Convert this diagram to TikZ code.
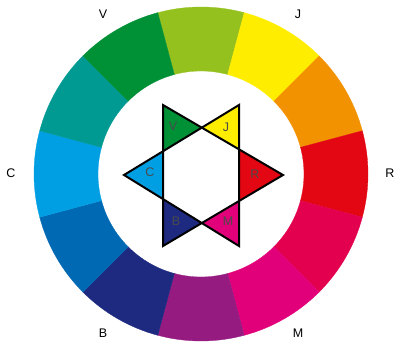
\documentclass[tikz,border=0pt]{standalone}
\usepackage{fontspec}
\setmainfont{Liberation Sans}
\definecolor{cYG}{HTML}{95C11F}
\definecolor{cY}{HTML}{FFED00}
\definecolor{cO}{HTML}{F39200}
\definecolor{cR}{HTML}{E30613}
\definecolor{cRM}{HTML}{E2004F}
\definecolor{cM}{HTML}{E2007A}
\definecolor{cP}{HTML}{951B81}
\definecolor{cB}{HTML}{1D2A80}
\definecolor{cBC}{HTML}{0069B4}
\definecolor{cC}{HTML}{009FE3}
\definecolor{cT}{HTML}{009A93}
\definecolor{cV}{HTML}{009036}
\definecolor{cLbl}{HTML}{4A4A4A}
\tikzset{
  outerlabel/.style={font=\fontsize{12.5}{14}\selectfont, text=black, inner sep=0pt},
  innerlabel/.style={font=\fontsize{12.5}{14}\selectfont, text=cLbl, inner sep=0pt},
  starline/.style={line width=2pt, line join=miter, draw=black}
}
\begin{document}
\begin{tikzpicture}[x=1pt,y=1pt]
\useasboundingbox (0,0) rectangle (395,347);
% colour wheel
\foreach \a/\c in {90/cYG,60/cY,30/cO,0/cR,-30/cRM,-60/cM,-90/cP,-120/cB,-150/cBC,180/cC,150/cT,120/cV}{
  \fill[\c, draw=\c, line width=0.3pt, shift={(201pt,173pt)}]
    (\a-15:167pt) arc[start angle=\a-15, end angle=\a+15, radius=167pt]
    -- (\a+15:103pt) arc[start angle=\a+15, end angle=\a-15, radius=103pt] -- cycle;
}
% outer labels
\node[outerlabel] (lV) at (103,333) {V};
\node[outerlabel] (lJ) at (298,333) {J};
\node[outerlabel] (lC) at (11,174) {C};
\node[outerlabel] (lR) at (390,174) {R};
\node[outerlabel] (lB) at (103,14) {B};
\node[outerlabel] (lM) at (298,14) {M};
% star
\coordinate (A) at (163,242);
\coordinate (B) at (283,172);
\coordinate (C) at (163,101);
\coordinate (D) at (239,242);
\coordinate (E) at (124,172);
\coordinate (F) at (239,101);
\coordinate (P1) at (intersection of A--B and D--E);
\coordinate (P2) at (intersection of A--B and D--F);
\coordinate (P3) at (intersection of C--B and D--F);
\coordinate (P4) at (intersection of C--B and E--F);
\coordinate (P5) at (intersection of A--C and E--F);
\coordinate (P6) at (intersection of A--C and D--E);
\fill[cV] (A) -- (P1) -- (P6) -- cycle;
\fill[cY] (D) -- (P1) -- (P2) -- cycle;
\fill[cR] (B) -- (P2) -- (P3) -- cycle;
\fill[cM] (F) -- (P3) -- (P4) -- cycle;
\fill[cB] (C) -- (P4) -- (P5) -- cycle;
\fill[cC] (E) -- (P5) -- (P6) -- cycle;
\draw[starline] (A) -- (B) -- (C) -- cycle;
\draw[starline] (D) -- (E) -- (F) -- cycle;
% inner labels
\node[innerlabel] (sV) at (173,221) {V};
\node[innerlabel] (sJ) at (226,220) {J};
\node[innerlabel] (sC) at (150,175) {C};
\node[innerlabel] (sR) at (255,173) {R};
\node[innerlabel] (sB) at (176,126) {B};
\node[innerlabel] (sM) at (228,126) {M};
\end{tikzpicture}
\end{document}
